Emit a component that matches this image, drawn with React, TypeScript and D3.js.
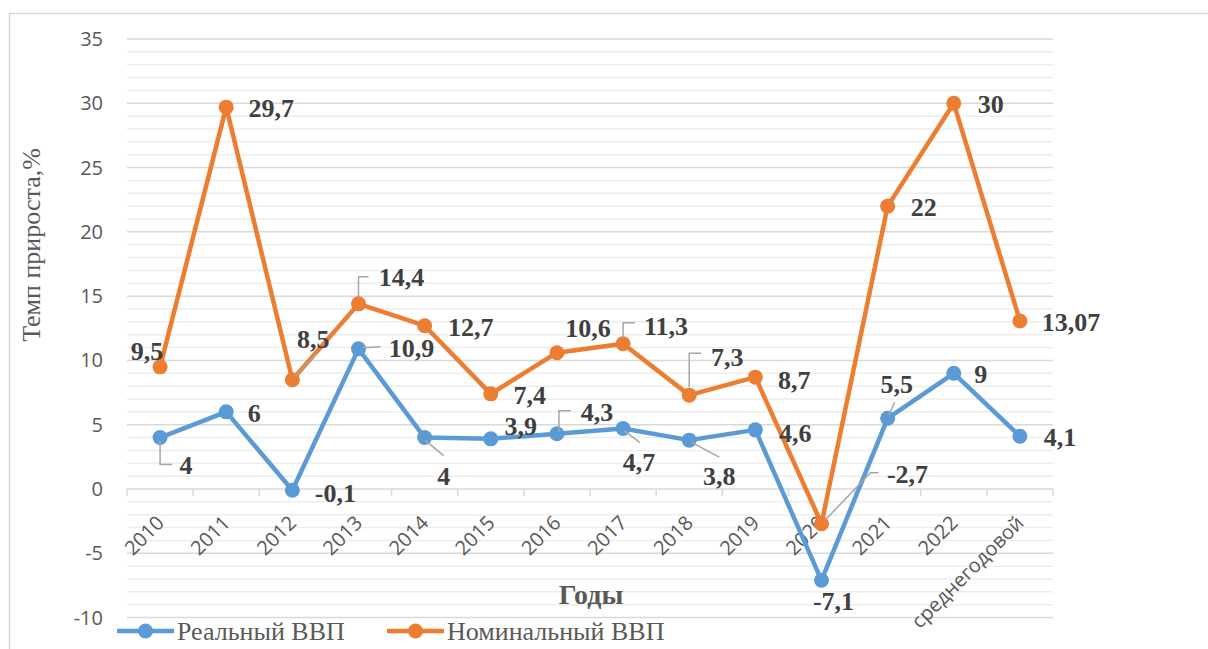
import React from "react";
import * as d3 from "d3";

const categories = ["2010", "2011", "2012", "2013", "2014", "2015", "2016", "2017", "2018", "2019", "2020", "2021", "2022", "среднегодовой"];
const realGdp = [4, 6, -0.1, 10.9, 4, 3.9, 4.3, 4.7, 3.8, 4.6, -7.1, 5.5, 9, 4.1];
const nominalGdp = [9.5, 29.7, 8.5, 14.4, 12.7, 7.4, 10.6, 11.3, 7.3, 8.7, -2.7, 22, 30, 13.07];
const yTicks = [-10, -5, 0, 5, 10, 15, 20, 25, 30, 35];
const seriesNames = ["Реальный ВВП", "Номинальный ВВП"];
const yTitle = "Темп прироста,%";
const xTitle = "Годы";

// label placement (offset of text centre from the point) and leader lines
const realLabelPos: [number, number][] = [
  [26, 28], [28, 1], [43, 3], [53, -1], [19, 39], [30, -13], [40, -22],
  [16, 34], [30, 36], [40, 3], [12, 21], [9, -34], [27, 1], [40, 1],
];
const realLeaders: ([number, number][] | null)[] = [
  [[0, 3], [0, 27], [12, 27]], null, null, [[4, -1], [22, -2]], [[1, 3], [19, 18]], null,
  [[2, -2], [2, -23], [14, -23]], [[1, 2], [17, 14]], [[2, 2], [30, 17]], null, null,
  [[1, -3], [7, -16]], null, null,
];
const nomLabelPos: [number, number][] = [
  [-13, -16], [45, 1], [21, -41], [43, -27], [46, 1], [39, 1], [31, -25],
  [43, -18], [38, -38], [39, 3], [86, -50], [36, 1], [37, 1], [51, 1],
];
const nomLeaders: ([number, number][] | null)[] = [
  null, null, [[2, -3], [24, -26]], [[0, -6], [0, -27], [10, -27]], null, null, null,
  [[0, -6], [0, -21], [12, -21]], [[0, -8], [0, -42], [12, -42]], null,
  [[4, -4], [49, -51], [57, -51]], null, null, null,
];

const BLUE = "#5b9bd5";
const ORANGE = "#ed7d31";

export default function App() {
  const W = 1208, H = 649;
  const left = 127, right = 1053;
  const x = d3.scaleBand<number>().domain(d3.range(categories.length)).range([left, right]).padding(0);
  const cx = (i: number) => (x(i) as number) + x.bandwidth() / 2;
  const y = d3.scaleLinear().domain([0, 35]).range([489, 39]);
  const minor = d3.range(-10, 36, 1);
  const line = d3.line<number>().x((_, i) => cx(i)).y((d) => y(d));
  const fmt = (v: number) => String(v).replace(".", ",");
  const serif = "'Liberation Serif', 'Times New Roman', serif";
  const sans = "'Open Sans', 'Noto Sans', sans-serif";

  const renderLabels = (vals: number[], pos: [number, number][], leaders: ([number, number][] | null)[]) => (
    <g>
      {vals.map((v, i) => {
        const px = cx(i), py = y(v);
        const ld = leaders[i];
        return ld ? (
          <path key={"l" + i} d={d3.line()(ld.map(([a, b]) => [px + a, py + b] as [number, number])) as string}
            fill="none" stroke="#a6a6a6" strokeWidth={1.5} />
        ) : null;
      })}
      {vals.map((v, i) => (
        <text key={"t" + i} x={cx(i) + pos[i][0]} y={y(v) + pos[i][1]} dy="0.34em" textAnchor="middle"
          fontFamily={serif} fontWeight="bold" fontSize={26} fill="#404040">{fmt(v)}</text>
      ))}
    </g>
  );

  return (
    <svg width={W} height={H} style={{ position: "absolute", left: 0, top: 0, background: "#fff" }}>
      <rect x={0} y={0} width={W} height={H} fill="#fff" />
      <rect x={9.5} y={13.5} width={1300} height={700} fill="none" stroke="#d9d9d9" strokeWidth={1.5} />
      {/* grid */}
      {minor.map((v) => (
        <line key={v} x1={left} x2={right} y1={y(v)} y2={y(v)}
          stroke={v % 5 === 0 ? "#d9d9d9" : "#ededed"} strokeWidth={1.5} />
      ))}
      {/* x axis ticks at 0 */}
      {d3.range(categories.length + 1).map((k) => {
        const xx = k < categories.length ? (x(k) as number) : right;
        return <line key={k} x1={xx} x2={xx} y1={y(0)} y2={y(0) + 7} stroke="#d9d9d9" strokeWidth={1.5} />;
      })}
      {/* y tick labels */}
      {yTicks.map((t) => (
        <text key={t} x={103} y={y(t)} dy="0.35em" textAnchor="end" fontFamily={sans} fontSize={20} fill="#595959">{t}</text>
      ))}
      {/* x tick labels */}
      {categories.map((c, i) => (
        <text key={c} transform={`translate(${cx(i) - 5},${y(0) + 25}) rotate(-45)`} dy="0.72em" textAnchor="end"
          fontFamily={sans} fontSize={20} fill="#595959">{c}</text>
      ))}
      {/* axis titles */}
      <text transform={`translate(40,245) rotate(-90)`} textAnchor="middle" fontFamily={serif} fontSize={26} fill="#595959">{yTitle}</text>
      <text x={591} y={604} textAnchor="middle" fontFamily={serif} fontWeight="bold" fontSize={28} fill="#595959">{xTitle}</text>
      {/* series */}
      <path d={line(realGdp) as string} fill="none" stroke={BLUE} strokeWidth={4.5} strokeLinejoin="round" />
      {realGdp.map((v, i) => <circle key={i} cx={cx(i)} cy={y(v)} r={7.5} fill={BLUE} />)}
      <path d={line(nominalGdp) as string} fill="none" stroke={ORANGE} strokeWidth={4.5} strokeLinejoin="round" />
      {nominalGdp.map((v, i) => <circle key={i} cx={cx(i)} cy={y(v)} r={7.5} fill={ORANGE} />)}
      {renderLabels(realGdp, realLabelPos, realLeaders)}
      {renderLabels(nominalGdp, nomLabelPos, nomLeaders)}
      {/* legend */}
      {[BLUE, ORANGE].map((col, k) => {
        const x0 = k === 0 ? 117 : 387;
        return (
          <g key={k}>
            <line x1={x0} x2={x0 + 57} y1={631} y2={631} stroke={col} strokeWidth={4.5} />
            <circle cx={x0 + 28.5} cy={631} r={7.5} fill={col} />
            <text x={x0 + 60} y={631} dy="0.34em" fontFamily={serif} fontSize={26} fill="#595959">{seriesNames[k]}</text>
          </g>
        );
      })}
    </svg>
  );
}
